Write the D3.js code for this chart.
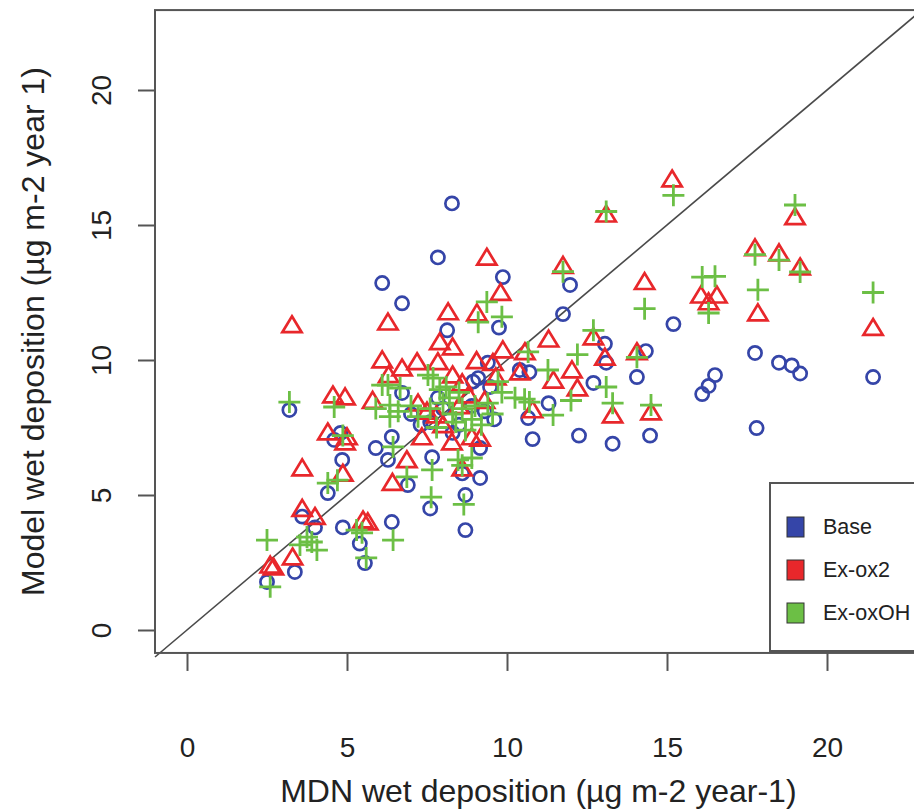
<!DOCTYPE html>
<html>
<head>
<meta charset="utf-8">
<script src="https://cdn.jsdelivr.net/npm/d3@7"></script>
<style>
  body { margin: 0; background: #fff; }
  svg { display: block; font-family: "Liberation Sans", Arial, sans-serif; }
</style>
</head>
<body>
<svg id="chart"></svg>
<script>
var chartWidth = 914;
var chartHeight = 809;

/********
 * Data *
 ********/

var basePoints = [
  [21.44,9.37],[19.16,9.5],[18.9,9.8],[18.5,9.9],[17.75,10.26],[17.8,7.48],[16.5,9.44],[16.3,9.04],[16.1,8.74],
  [15.2,11.33],[14.47,7.2],[14.34,10.33],[14.06,9.37],[13.3,6.9],[13.1,9.9],[13.06,10.6],[12.7,9.15],[12.25,7.2],
  [11.97,12.78],[11.75,11.7],[11.3,8.4],[10.8,7.07],[10.7,9.55],[10.66,7.85],[10.4,9.63],[9.87,13.07],[9.75,11.2],
  [9.4,9.9],[9.1,9.33],[8.94,9.2],[9.47,9.0],[9.16,6.74],[9.16,5.63],[8.7,5.0],[8.7,3.7],[8.6,5.8],[8.28,15.8],
  [7.84,13.8],[8.13,11.1],[7.84,8.6],[6.1,12.85],[6.72,12.1],[6.72,8.78],[7.66,6.4],[7.6,4.5],[6.9,5.37],[6.4,7.15],
  [5.9,6.74],[6.28,6.3],[4.85,6.3],[4.6,7.04],[4.4,5.07],[3.2,8.15],[3.6,4.2],[4.0,3.8],[3.37,2.15],[2.5,1.78],
  [4.87,3.8],[6.4,4.0],[5.4,3.2],[5.56,2.48],[8.9,8.3],[9.3,8.1],[8.5,7.6],[8.0,8.2],[7.6,7.7],[8.3,7.3],[9.6,7.8],
  [7.3,7.6],[7.0,8.0],[4.8,7.3]
];

var exOx2Points = [
  [21.44,11.2],[19.16,13.44],[19.0,15.3],[18.5,13.96],[17.75,14.15],[17.84,11.74],[16.56,12.4],[16.3,12.15],[16.06,12.4],
  [15.16,16.7],[14.5,8.07],[14.3,12.9],[14.06,10.3],[13.3,7.96],[13.1,15.4],[13.06,10.1],[12.7,10.85],[12.2,8.96],
  [12.03,9.63],[11.75,13.5],[11.45,9.25],[11.3,10.77],[10.8,8.15],[10.56,10.3],[10.4,9.55],[9.87,10.37],[9.8,12.5],
  [9.65,9.37],[9.56,9.9],[9.37,13.8],[9.05,9.97],[9.06,11.74],[9.16,7.1],[8.9,7.15],[8.6,6.0],[8.6,9.15],[8.3,9.44],
  [8.28,6.96],[8.16,11.78],[8.3,10.48],[7.9,10.67],[7.84,9.93],[7.8,7.96],[7.34,7.15],[7.22,8.4],[7.19,9.93],[6.87,6.3],
  [6.72,9.7],[6.42,5.46],[6.3,9.45],[6.28,11.4],[6.1,10.0],[5.8,8.5],[5.5,4.07],[5.65,4.0],[4.94,8.63],[4.56,8.7],
  [4.94,6.96],[5.0,7.15],[4.4,7.33],[4.87,5.8],[3.6,6.0],[3.28,11.3],[3.6,4.5],[4.0,4.2],[3.3,2.7],[2.6,2.4],[2.7,2.33],
  [8.5,8.3],[8.8,8.7],[9.3,8.5],[8.0,7.6],[7.5,8.1]
];

var exOxOHPoints = [
  [21.44,12.5],[19.16,13.26],[19.0,15.74],[18.5,13.7],[17.75,13.9],[17.84,12.6],[16.5,13.1],[16.3,11.74],[16.1,13.07],
  [15.2,16.1],[14.5,8.33],[14.3,11.9],[14.06,10.1],[13.3,8.4],[13.1,15.5],[13.1,9.0],[12.7,11.1],[12.2,10.2],[12.0,8.5],
  [11.75,13.27],[11.44,7.96],[11.28,9.63],[10.7,8.44],[10.66,10.3],[10.55,8.55],[10.25,8.6],[9.84,11.6],[9.84,8.8],
  [9.72,9.2],[9.55,8.0],[9.37,12.15],[9.1,11.4],[8.9,6.37],[8.6,6.1],[8.65,4.65],[8.47,6.3],[8.1,9.0],[7.9,8.9],
  [7.8,7.5],[7.69,9.33],[7.53,9.44],[7.66,5.93],[7.63,4.92],[7.22,7.9],[6.87,5.67],[6.66,8.96],[6.44,6.78],[6.44,3.33],
  [6.34,8.33],[6.34,7.9],[6.28,9.07],[6.1,9.07],[5.9,8.2],[5.6,2.67],[5.47,3.6],[5.3,3.7],[4.87,7.2],[4.6,8.26],[4.4,5.44],
  [4.7,5.55],[3.2,8.44],[3.75,3.44],[3.9,3.26],[4.06,2.96],[3.53,3.15],[2.5,3.33],[2.6,1.6],
  [8.0,8.4],[8.3,8.0],[8.6,8.2],[8.9,7.8],[8.4,7.7],[9.0,8.3],[8.2,8.6],[9.2,7.6],[8.7,7.4],[8.5,8.8],[9.4,8.4],
  [7.6,8.2],[6.6,8.1],[7.0,8.3]
];

var seriesNames = ["Base", "Ex-ox2", "Ex-oxOH"];
var seriesColors = ["#3545a8", "#e8272b", "#6cbf45"];
var tickValues = [0, 5, 10, 15, 20];

var xLabel = "MDN wet deposition (\u00b5g m-2 year-1)";
var yLabel = "Model wet deposition (\u00b5g m-2 year 1)";

/**********
 * Scales *
 **********/

var x = d3.scaleLinear().domain([0, 20]).range([187, 827]);
var y = d3.scaleLinear().domain([0, 20]).range([630, 90]);

// plot region limits (R-style padded)
var xlim = [-1, 22.96];
var ylim = [-0.85, 22.96];

/**************
 * Make Chart *
 **************/

var svg = d3.select("#chart")
    .attr("width", chartWidth)
    .attr("height", chartHeight);

// 1:1 line
svg.append("line")
    .attr("x1", x(xlim[0])).attr("y1", y(xlim[0]))
    .attr("x2", x(ylim[1])).attr("y2", y(ylim[1]))
    .attr("stroke", "#4a4a4a")
    .attr("stroke-width", 1.6);

function drawCircles(data, color) {
  svg.append("g").selectAll("circle")
    .data(data)
    .enter().append("circle")
    .attr("cx", function(d){ return x(d[0]); })
    .attr("cy", function(d){ return y(d[1]); })
    .attr("r", 6.6)
    .attr("fill", "none")
    .attr("stroke", color)
    .attr("stroke-width", 2.7);
}

function drawTriangles(data, color) {
  var h = 8.6;
  svg.append("g").selectAll("path")
    .data(data)
    .enter().append("path")
    .attr("d", "M0," + (-h) + "L" + (h * 1.12) + "," + (h * 0.85) + "L" + (-h * 1.12) + "," + (h * 0.85) + "Z")
    .attr("transform", function(d){ return "translate(" + x(d[0]) + "," + y(d[1]) + ")"; })
    .attr("fill", "none")
    .attr("stroke", color)
    .attr("stroke-width", 2.7);
}

function drawPluses(data, color) {
  svg.append("g").selectAll("path")
    .data(data)
    .enter().append("path")
    .attr("d", "M-11,0H11M0,-11V11")
    .attr("transform", function(d){ return "translate(" + x(d[0]) + "," + y(d[1]) + ")"; })
    .attr("fill", "none")
    .attr("stroke", color)
    .attr("stroke-width", 2.8);
}

drawCircles(basePoints, seriesColors[0]);
drawTriangles(exOx2Points, seriesColors[1]);
drawPluses(exOxOHPoints, seriesColors[2]);

// plot box
svg.append("rect")
    .attr("x", x(xlim[0]))
    .attr("y", y(ylim[1]))
    .attr("width", x(xlim[1]) - x(xlim[0]))
    .attr("height", y(ylim[0]) - y(ylim[1]))
    .attr("fill", "none")
    .attr("stroke", "#555")
    .attr("stroke-width", 2);

// axes
var xAxis = d3.axisBottom(x).tickValues(tickValues).tickSize(18).tickPadding(86);
var yAxis = d3.axisLeft(y).tickValues(tickValues).tickSize(17).tickPadding(10);

var xAxisGroup = svg.append("g")
    .attr("transform", "translate(0," + y(ylim[0]) + ")")
    .call(xAxis);
var yAxisGroup = svg.append("g")
    .attr("transform", "translate(" + x(xlim[0]) + ",0)")
    .call(yAxis);

[xAxisGroup, yAxisGroup].forEach(function(g){
  g.select(".domain").remove();
  g.selectAll("line").attr("stroke", "#555").attr("stroke-width", 2);
  g.selectAll("text")
    .attr("fill", "#222")
    .style("font-size", "28px");
});

xAxisGroup.selectAll("text").attr("dy", "0");
yAxisGroup.selectAll("text")
    .attr("text-anchor", "middle")
    .attr("dy", "0")
    .attr("transform", "translate(-44,0) rotate(-90)")
    .attr("x", 0);

svg.append("text")
    .attr("x", (x(xlim[0]) + x(xlim[1])) / 2)
    .attr("y", 802)
    .attr("text-anchor", "middle")
    .attr("fill", "#222")
    .style("font-size", "32px")
    .text(xLabel);

svg.append("text")
    .attr("transform", "translate(44," + ((y(ylim[0]) + y(ylim[1])) / 2) + ") rotate(-90)")
    .attr("text-anchor", "middle")
    .attr("fill", "#222")
    .style("font-size", "32px")
    .text(yLabel);

// legend
var legend = svg.append("g");
legend.append("rect")
    .attr("x", 770).attr("y", 483)
    .attr("width", 200).attr("height", 168)
    .attr("fill", "#fff")
    .attr("stroke", "#555")
    .attr("stroke-width", 2);

var items = legend.selectAll("g.item")
    .data(seriesNames)
    .enter().append("g")
    .attr("class", "item")
    .attr("transform", function(d, i){ return "translate(0," + (527 + i * 43) + ")"; });

items.append("rect")
    .attr("x", 787).attr("y", -10)
    .attr("width", 17).attr("height", 20)
    .attr("fill", function(d, i){ return seriesColors[i]; })
    .attr("stroke", "#333")
    .attr("stroke-width", 1);

items.append("text")
    .attr("x", 823).attr("y", 7)
    .attr("fill", "#222")
    .style("font-size", "21.5px")
    .text(function(d){ return d; });
</script>
</body>
</html>
